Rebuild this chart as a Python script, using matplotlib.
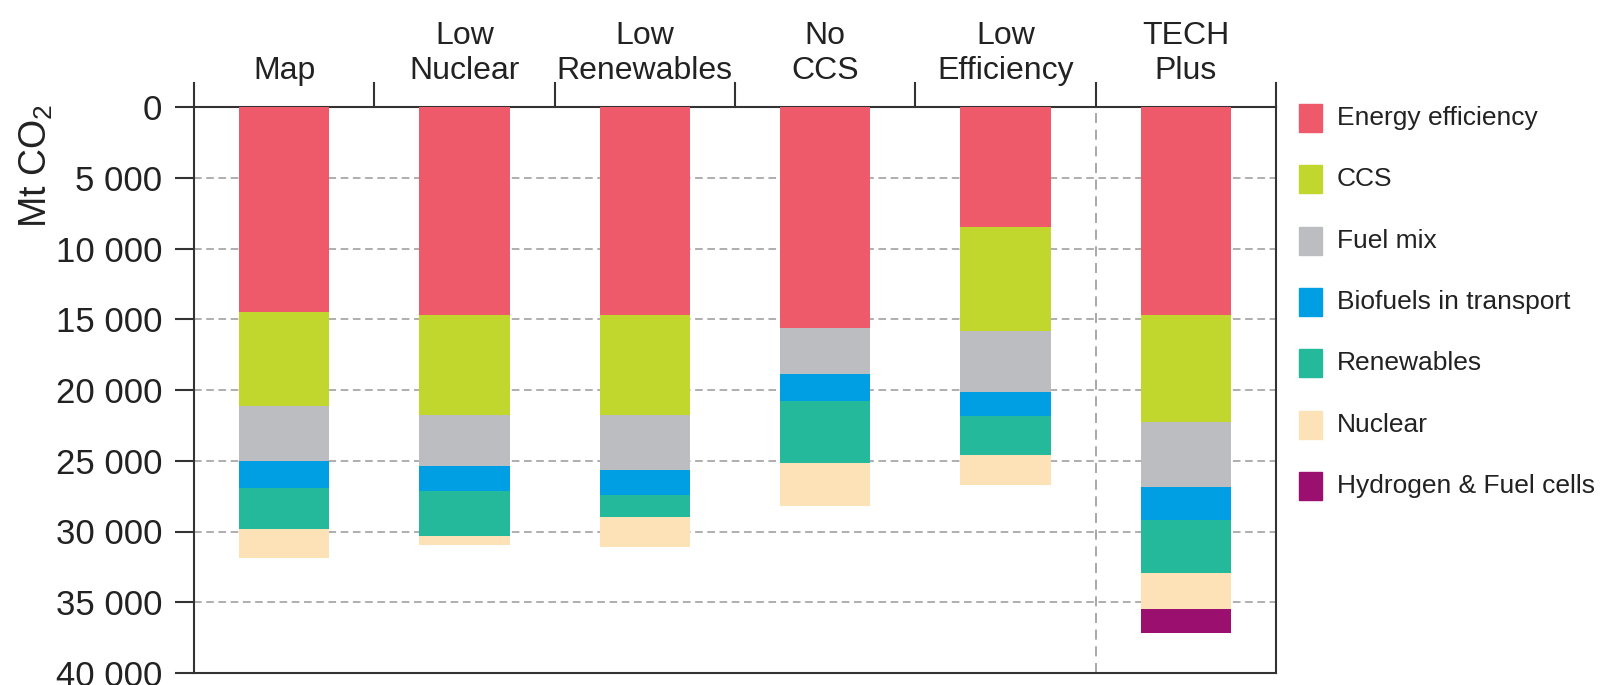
import matplotlib
matplotlib.use("Agg")
import matplotlib.pyplot as plt
from matplotlib.patches import Rectangle
import numpy as np

plt.rcParams['font.family'] = ['Liberation Sans', 'DejaVu Sans']
plt.rcParams['mathtext.default'] = 'regular'

# scenarios and the CO2 reductions (Mt CO2) per technology
scenarios = ["Map", "Low\nNuclear", "Low\nRenewables", "No\nCCS", "Low\nEfficiency", "TECH\nPlus"]
energy_efficiency = [14500, 14700, 14700, 15650, 8450, 14700]
ccs = [6650, 7050, 7050, 0, 7350, 7550]
fuel_mix = [3900, 3650, 3900, 3250, 4350, 4600]
biofuels = [1850, 1750, 1750, 1850, 1700, 2350]
renewables = [2900, 3150, 1550, 4400, 2750, 3750]
nuclear = [2050, 650, 2150, 3050, 2100, 2550]
hydrogen = [0, 0, 0, 0, 0, 1650]

series_names = ["Energy efficiency", "CCS", "Fuel mix", "Biofuels in transport",
                "Renewables", "Nuclear", "Hydrogen & Fuel cells"]
series_colors = ["#EF5A6A", "#C2D72E", "#BCBDC0", "#009EE2", "#23B99A", "#FDE2B8", "#9B0F6F"]
series = [energy_efficiency, ccs, fuel_mix, biofuels, renewables, nuclear, hydrogen]

W, H = 1607, 685
fig = plt.figure(figsize=(W / 100, H / 100), dpi=100)
ax_left, ax_right, ax_top, ax_bottom = 194, 1276, 107, 673
ax = fig.add_axes([ax_left / W, 1 - ax_bottom / H, (ax_right - ax_left) / W, (ax_bottom - ax_top) / H])

x = np.arange(len(scenarios))
bottom = np.zeros(len(scenarios))
for vals, name, col in zip(series, series_names, series_colors):
    ax.bar(x, vals, width=0.5, bottom=bottom, color=col, label=name, zorder=3)
    bottom += np.array(vals)

ax.set_xlim(-0.5, len(scenarios) - 0.5)
ax.set_ylim(40000, 0)
yt = np.arange(0, 40001, 5000)
ax.set_yticks(yt)
ax.set_yticklabels([f"{v:,}".replace(",", " ") for v in yt], fontsize=25, color="#222222")
ax.tick_params(axis='y', length=14, width=1.5, pad=9, color="#333333")
ax.set_xticks([])

for v in yt[1:-1]:
    ax.axhline(v, color="#999999", lw=1.1, ls=(0, (5, 3)), zorder=1)

for s in ax.spines.values():
    s.set_color("#333333")
    s.set_linewidth(1.5)

# category dividers above the plot
tick_h = (ax_top - 83) / (ax_bottom - ax_top)
for b in np.arange(-0.5, len(scenarios), 1.0):
    ax.plot([b, b], [1.0, 1.0 + tick_h], color="#333333", lw=1.5,
            transform=ax.get_xaxis_transform(), clip_on=False)
# TECH Plus separator
ax.axvline(len(scenarios) - 1.5, color="#999999", lw=1.2, ls=(0, (6, 4)), zorder=1)

label_y = 1.0 + (ax_top - 86) / (ax_bottom - ax_top)
for xi, name in zip(x, scenarios):
    ax.text(xi, label_y, name, ha='center', va='bottom', fontsize=23, linespacing=1.2,
            color="#222222", transform=ax.get_xaxis_transform())

fig.text(36 / W, 1 - 166 / H, "Mt CO$_2$", rotation=90, ha='center', va='center',
         fontsize=27, color="#222222")

# legend
for i, (name, col) in enumerate(zip(series_names, series_colors)):
    cy = 118 + i * 61.3
    fig.add_artist(Rectangle((1299 / W, 1 - (cy + 14) / H), 23 / W, 28 / H,
                             transform=fig.transFigure, color=col))
    fig.text(1337 / W, 1 - cy / H, name, ha='left', va='center', fontsize=19, color="#222222")

fig.savefig("out.png", dpi=100)
